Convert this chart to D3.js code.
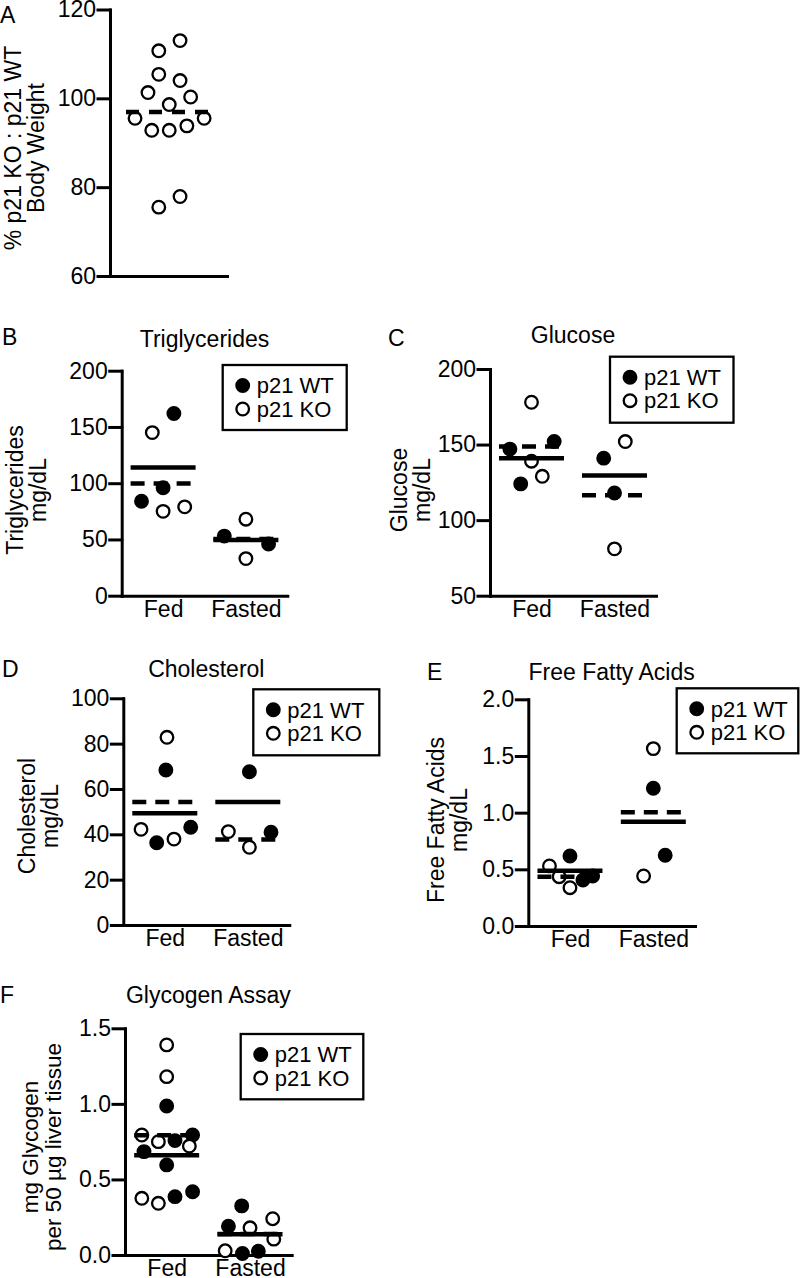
<!DOCTYPE html>
<html><head><meta charset="utf-8">
<script src="https://cdn.jsdelivr.net/npm/d3@7"></script>
<style>
html,body{margin:0;padding:0;background:#fff;}
svg{display:block;font-family:"Liberation Sans",Arial,Helvetica,sans-serif;}
</style></head><body>
<svg id="chart" width="800" height="1278"></svg>
<script>
// ---------- data ----------
const groups = ["Fed", "Fasted"];
const legendLabels = ["p21 WT", "p21 KO"];

// A: body weight ratio (KO only)
const bodyWeightKO = [113, 110.7, 105.4, 104, 101.3, 100.3, 98.6, 95.5, 95.5, 92.8, 92.8, 93.8, 75.5, 77.9];
const bodyWeightJitter = [1.07, -0.9, -0.9, 1.07, -1.9, 2.05, 0.07, -3.1, 3.3, -1.55, 0.07, 1.7, -0.9, 1.07];
const bodyWeightTicks = [60, 80, 100, 120];

// B: triglycerides (Fed, Fasted)
const trigWT = [[162, 84, 96], [53, 46]];
const trigWTJitter = [[1, -2, 0], [-2, 2.1]];
const trigKO = [[145, 75, 79], [68, 33]];
const trigKOJitter = [[-1, 0, 2], [0, 0]];
const trigTicks = [0, 50, 100, 150, 200];

// C: glucose
const glucWT = [[147, 152, 124], [141, 118]];
const glucWTJitter = [[-2, 2.1, -1], [-1, 0]];
const glucKO = [[178, 139, 129], [152, 81]];
const glucKOJitter = [[0, 0, 1], [1, 0]];
const glucTicks = [50, 100, 150, 200];

// D: cholesterol
const cholWT = [[68.4, 36.3, 43.1], [67.6, 40.9]];
const cholWTJitter = [[0.1, -0.75, 2.4], [0.15, 2.15]];
const cholKO = [[82.8, 42.2, 37.9], [41.2, 34.3]];
const cholKOJitter = [[0.2, -2.2, 0.85], [-1.8, 0.15]];
const cholTicks = [0, 20, 40, 60, 80, 100];

// E: free fatty acids
const ffaWT = [[0.618, 0.406, 0.441], [1.215, 0.624]];
const ffaWTJitter = [[0, 1.2, 2.1], [0, 1.1]];
const ffaKO = [[0.53, 0.435, 0.338], [1.565, 0.441]];
const ffaKOJitter = [[-1.9, -1, 0], [0, -0.9]];
const ffaTicks = [0, 0.5, 1.0, 1.5, 2.0];

// F: glycogen
const glyWT = [[0.986, 0.757, 0.794, 0.684, 0.596, 0.386, 0.419], [0.325, 0.19, 0.01, 0.025]];
const glyWTJitter = [[0, 0.77, 2.4, -2.1, 0, 0.77, 2.4], [-0.77, -2.0, -0.7, 0.77]];
const glyKO = [[1.39, 1.18, 0.794, 0.75, 0.721, 0.375, 0.342], [0.18, 0.24, 0.105, 0.028]];
const glyKOJitter = [[0, 0, -2.3, -0.77, 2.1, -2.3, -0.77], [0, 2.1, 2.2, -2.3]];
const glyTicks = [0, 0.5, 1.0, 1.5];

// ---------- drawing ----------
const svg = d3.select("#chart");
const FS = 23;
const LFS = 22;
const R = 6.3;
const jit = d3.scaleLinear().domain([-1, 1]).range([-10.8, 10.8]);

function drawPanel(c) {
  const g = svg.append("g");
  const y = d3.scaleLinear().domain(c.domain).range([c.yBottom, c.yTop]);
  const x = d3.scalePoint().domain(c.cats).range([c.x0, c.x1]).padding(0.5);

  g.append("text").attr("x", c.letter[1]).attr("y", c.letter[2])
    .attr("font-size", FS).text(c.letter[0]);
  if (c.title) {
    g.append("text").attr("x", (c.x0 + c.x1) / 2).attr("y", c.titleY)
      .attr("text-anchor", "middle").attr("font-size", FS).text(c.title);
  }
  const ya = g.append("g").attr("transform", `translate(${c.x0},0)`)
    .call(d3.axisLeft(y).tickValues(c.ticks).tickSize(12).tickSizeOuter(0)
      .tickPadding(2).tickFormat(c.fmt));
  ya.selectAll("path,line").attr("stroke", "#000").attr("stroke-width", 3)
    .attr("stroke-linecap", "square");
  ya.selectAll("text").attr("font-size", FS).attr("font-family", null).attr("fill", "#000");
  const xa = g.append("g").attr("transform", `translate(0,${c.yBottom})`)
    .call(d3.axisBottom(x).tickSize(0).tickSizeOuter(0).tickPadding(4.5));
  xa.selectAll("path").attr("stroke", "#000").attr("stroke-width", 3)
    .attr("stroke-linecap", "square");
  xa.selectAll("text").attr("font-size", FS).attr("font-family", null).attr("fill", "#000");
  if (!c.showCats) xa.selectAll("text").remove();

  c.ylabel.forEach((t, i) => {
    g.append("text")
      .attr("transform", `translate(${c.ylabelX[i]},${c.ylabelCY}) rotate(-90)`)
      .attr("text-anchor", "middle").attr("font-size", c.ylabelFS || FS).text(t);
  });

  c.series.forEach(s => {
    s.values.forEach((vals, gi) => {
      const cat = c.cats[gi];
      g.append("g").selectAll("circle").data(vals).join("circle")
        .attr("cx", (d, i) => x(cat) + jit(s.jitter[gi][i]))
        .attr("cy", d => y(d))
        .attr("r", R)
        .attr("fill", s.filled ? "#000" : "#fff")
        .attr("stroke", "#000").attr("stroke-width", 2.3);
    });
  });
  c.series.forEach(s => {
    s.values.forEach((vals, gi) => {
      const cat = c.cats[gi];
      const m = d3.mean(vals);
      g.append("line")
        .attr("x1", x(cat) - c.half).attr("x2", x(cat) + c.half)
        .attr("y1", y(m)).attr("y2", y(m))
        .attr("stroke", "#000").attr("stroke-width", 4.5)
        .attr("stroke-dasharray", s.dashed ? c.dash : null);
    });
  });

  if (c.legend) {
    const [lx, ly, lw, lh] = c.legend;
    const lg = g.append("g").attr("transform", `translate(${lx},${ly})`);
    lg.append("rect").attr("width", lw).attr("height", lh)
      .attr("fill", "#fff").attr("stroke", "#000").attr("stroke-width", 2.3);
    legendLabels.forEach((t, i) => {
      const cy = 20.5 + i * 23.5;
      lg.append("circle").attr("cx", 20).attr("cy", cy).attr("r", R)
        .attr("fill", i === 0 ? "#000" : "#fff").attr("stroke", "#000").attr("stroke-width", 2.3);
      lg.append("text").attr("x", 34).attr("y", cy + 7.8).attr("font-size", LFS).text(t);
    });
  }
}

const intFmt = d3.format("d");
const oneFmt = d3.format(".1f");

drawPanel({
  letter: ["A", 0, 22.7], title: null,
  x0: 110, x1: 227, yTop: 9.5, yBottom: 276, domain: [60, 120], ticks: bodyWeightTicks, fmt: intFmt,
  cats: [""], showCats: false,
  ylabel: ["% p21 KO : p21 WT", "Body Weight"], ylabelX: [20.5, 43.5], ylabelCY: 148,
  series: [{ values: [bodyWeightKO], jitter: [bodyWeightJitter], filled: false, dashed: true }],
  half: 42.5, dash: "13,10", legend: null
});

drawPanel({
  letter: ["B", 2, 345], title: "Triglycerides", titleY: 346.7,
  x0: 121.7, x1: 287.3, yTop: 370.7, yBottom: 595.7, domain: [0, 200], ticks: trigTicks, fmt: intFmt,
  cats: groups, showCats: true,
  ylabel: ["Triglycerides", "mg/dL"], ylabelX: [23, 46], ylabelCY: 490,
  series: [
    { values: trigWT, jitter: trigWTJitter, filled: true, dashed: false },
    { values: trigKO, jitter: trigKOJitter, filled: false, dashed: true }
  ],
  half: 32.5, dash: "14,9", legend: [222.7, 365, 124, 65]
});

drawPanel({
  letter: ["C", 388, 345.7], title: "Glucose", titleY: 343.3,
  x0: 490, x1: 656, yTop: 369, yBottom: 595.7, domain: [50, 200], ticks: glucTicks, fmt: intFmt,
  cats: groups, showCats: true,
  ylabel: ["Glucose", "mg/dL"], ylabelX: [406.5, 429.5], ylabelCY: 490,
  series: [
    { values: glucWT, jitter: glucWTJitter, filled: true, dashed: false },
    { values: glucKO, jitter: glucKOJitter, filled: false, dashed: true }
  ],
  half: 32.5, dash: "14,9", legend: [610, 356.7, 123.5, 66]
});

drawPanel({
  letter: ["D", 2, 676.7], title: "Cholesterol", titleY: 676.7,
  x0: 123.3, x1: 289.3, yTop: 698.3, yBottom: 925, domain: [0, 100], ticks: cholTicks, fmt: intFmt,
  cats: groups, showCats: true,
  ylabel: ["Cholesterol", "mg/dL"], ylabelX: [34.5, 57.5], ylabelCY: 816,
  series: [
    { values: cholWT, jitter: cholWTJitter, filled: true, dashed: false },
    { values: cholKO, jitter: cholKOJitter, filled: false, dashed: true }
  ],
  half: 32.5, dash: "14,9", legend: [253.3, 689.3, 126, 66]
});

drawPanel({
  letter: ["E", 427, 680], title: "Free Fatty Acids", titleY: 680,
  x0: 528.3, x1: 695, yTop: 699.3, yBottom: 926, domain: [0, 2], ticks: ffaTicks, fmt: oneFmt,
  cats: groups, showCats: true,
  ylabel: ["Free Fatty Acids", "mg/dL"], ylabelX: [444, 467], ylabelCY: 820,
  series: [
    { values: ffaWT, jitter: ffaWTJitter, filled: true, dashed: false },
    { values: ffaKO, jitter: ffaKOJitter, filled: false, dashed: true }
  ],
  half: 32.5, dash: "14,9", legend: [676.7, 688.3, 121.6, 65]
});

drawPanel({
  letter: ["F", 0, 1003.3], title: "Glycogen Assay", titleY: 1003.3,
  x0: 125, x1: 291.7, yTop: 1028.3, yBottom: 1255, domain: [0, 1.5], ticks: glyTicks, fmt: oneFmt,
  cats: groups, showCats: true,
  ylabel: ["mg Glycogen", "per 50 \u00b5g liver tissue"], ylabelX: [38, 60.5], ylabelCY: 1147, ylabelFS: 22.5,
  series: [
    { values: glyWT, jitter: glyWTJitter, filled: true, dashed: false },
    { values: glyKO, jitter: glyKOJitter, filled: false, dashed: true }
  ],
  half: 32.5, dash: "14,9", legend: [240.7, 1034, 122.6, 65.3]
});
</script>
</body></html>
